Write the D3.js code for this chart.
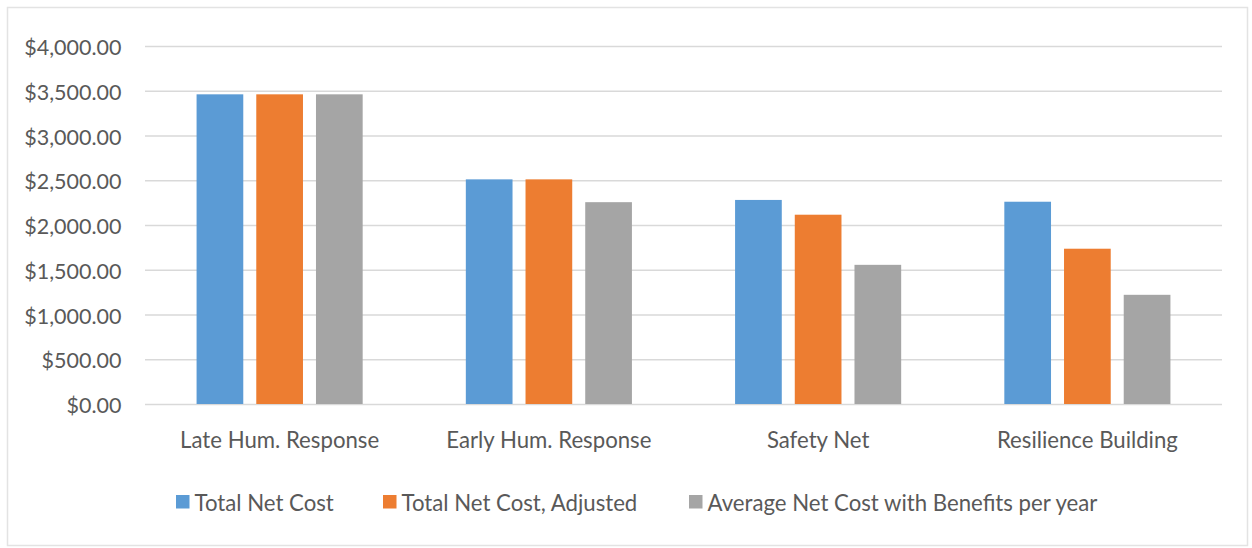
<!DOCTYPE html>
<html>
<head>
<meta charset="utf-8">
<script src="https://cdn.jsdelivr.net/npm/d3@7"></script>
<style>
  html, body { margin: 0; padding: 0; background: #fff; }
  svg { display: block; }
  text { font-family: Lato, "Open Sans", sans-serif; fill: #595959; }
</style>
</head>
<body>
<svg id="chart" width="1252" height="548"></svg>
<script>
// Program categories
const categories = ["Late Hum. Response", "Early Hum. Response", "Safety Net", "Resilience Building"];
// Series names as shown in the legend
const seriesNames = ["Total Net Cost", "Total Net Cost, Adjusted", "Average Net Cost with Benefits per year"];
// Values per category, one array per series
const totalNetCost = [3460, 2510, 2280, 2260];
const totalNetCostAdjusted = [3460, 2510, 2115, 1735];
const avgNetCostBenefits = [3460, 2255, 1555, 1220];
// Axis ticks
const yTicks = [0, 500, 1000, 1500, 2000, 2500, 3000, 3500, 4000];
const seriesColors = ["#5B9BD5", "#ED7D31", "#A5A5A5"];

const seriesValues = [totalNetCost, totalNetCostAdjusted, avgNetCostBenefits];
const rows = categories.map((c, i) => ({ category: c, values: seriesValues.map(s => s[i]) }));

const svg = d3.select("#chart");
const W = 1252, H = 548;
const plot = { left: 145, right: 1222, top: 46, bottom: 404 };
const fontSize = 22.2;
const tickFontSize = 21.5;

// chart outline
svg.append("rect")
  .attr("x", 7.5).attr("y", 7.5)
  .attr("width", W - 12).attr("height", H - 10)
  .attr("fill", "#fff").attr("stroke", "#e3e3e3").attr("stroke-width", 1.5);

const x0 = d3.scaleBand().domain(categories).range([plot.left, plot.right]).paddingInner(0).paddingOuter(0);
const y = d3.scaleLinear().domain([0, 4000]).range([plot.bottom, plot.top]);

// grouped bar geometry: 3 bars of equal width with small gaps, centred in each band
const barW = 46.7, barGap = 13;
const groupW = seriesNames.length * barW + (seriesNames.length - 1) * barGap;
const x1 = d3.scaleBand().domain(d3.range(seriesNames.length))
  .range([0, groupW]).paddingInner(barGap / (barW + barGap)).paddingOuter(0);

// gridlines and value labels
const yAxis = d3.axisLeft(y).tickValues(yTicks)
  .tickSize(-(plot.right - plot.left))
  .tickFormat(d => "$" + d3.format(",.2f")(d))
  .tickPadding(23.5);
const gy = svg.append("g").attr("transform", `translate(${plot.left},0)`).call(yAxis);
gy.select(".domain").remove();
gy.selectAll(".tick line").attr("stroke", "#d9d9d9").attr("stroke-width", 1.6);
gy.selectAll(".tick text").attr("font-size", tickFontSize).attr("fill", "#595959")
  .attr("dy", "0.4em")
  .style("font-family", "Lato, sans-serif");

// bars
const groups = svg.append("g").selectAll("g").data(rows).join("g")
  .attr("transform", d => `translate(${x0(d.category) + (x0.bandwidth() - groupW) / 2},0)`);
groups.selectAll("rect").data(d => d.values.map((v, i) => ({ v, i }))).join("rect")
  .attr("x", d => x1(d.i))
  .attr("width", x1.bandwidth())
  .attr("y", d => y(d.v))
  .attr("height", d => y(0) - y(d.v))
  .attr("fill", d => seriesColors[d.i]);

// category axis labels
const xAxis = d3.axisBottom(x0).tickSize(0);
const gx = svg.append("g").attr("transform", `translate(0,${plot.bottom})`).call(xAxis);
gx.select(".domain").remove();
gx.selectAll(".tick text").attr("font-size", fontSize).attr("fill", "#595959")
  .attr("y", 44).attr("dy", null)
  .style("font-family", "Lato, sans-serif");

// legend
const legendStarts = [176, 383, 689];
const legend = svg.append("g").selectAll("g").data(seriesNames).join("g")
  .attr("transform", (d, i) => `translate(${legendStarts[i]},0)`);
legend.append("rect").attr("x", 0).attr("y", 495).attr("width", 13.5).attr("height", 13.5)
  .attr("fill", (d, i) => seriesColors[i]);
legend.append("text").attr("x", 18.5).attr("y", 511)
  .attr("font-size", fontSize).text(d => d);
</script>
</body>
</html>
